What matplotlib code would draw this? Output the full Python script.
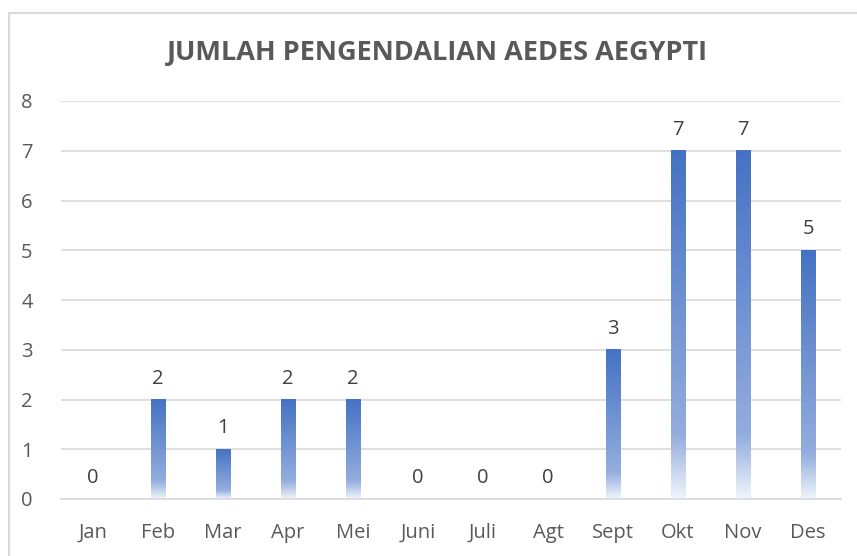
import numpy as np
import matplotlib.pyplot as plt
from matplotlib.colors import LinearSegmentedColormap
from matplotlib.patches import Rectangle

months = ['Jan', 'Feb', 'Mar', 'Apr', 'Mei', 'Juni', 'Juli', 'Agt',
          'Sept', 'Okt', 'Nov', 'Des']
counts = [0, 2, 1, 2, 2, 0, 0, 0, 3, 7, 7, 5]

W, H, DPI = 857, 556, 100
plt.rcParams['font.family'] = ['Open Sans', 'DejaVu Sans']

fig = plt.figure(figsize=(W / DPI, H / DPI), dpi=DPI)
# plot area in pixel coords: x 60.5..840.5, y(0)=499, y(8)=101
ax = fig.add_axes([60.5 / W, 1 - 499 / H, 780 / W, 398 / H])

# gradient: solid blue at top, fading to almost white at the bottom
grad = LinearSegmentedColormap.from_list('bar', [
    (0.0, (0.94, 0.96, 0.985)),
    (0.18, (0.58, 0.68, 0.87)),
    (1.0, (0.267, 0.447, 0.769)),
])
bar_w = 0.23
x = np.arange(len(months))
bars = ax.bar(x, counts, width=bar_w, color='none', zorder=2)
g = np.linspace(0, 1, 256).reshape(-1, 1)
for b, v in zip(bars, counts):
    if v <= 0:
        continue
    x0 = b.get_x()
    ax.imshow(g, cmap=grad, aspect='auto', origin='lower',
              extent=[x0, x0 + bar_w, 0, v], zorder=2, interpolation='bicubic')

for xi, v in zip(x, counts):
    ax.text(xi, v + 0.22, str(v), ha='center', va='bottom',
            fontsize=14.5, color='#404040')

ax.set_xlim(-0.5, len(months) - 0.5)
ax.set_ylim(0, 8)
ax.set_yticks(range(0, 9))
ax.set_xticks(x)
ax.set_xticklabels(months)
ax.grid(axis='y', color='#d9d9d9', linewidth=1.2, zorder=0)
ax.set_axisbelow(True)
for s in ['top', 'right', 'left']:
    ax.spines[s].set_visible(False)
ax.spines['bottom'].set_color('#d9d9d9')
ax.spines['bottom'].set_linewidth(1.2)
ax.tick_params(axis='both', length=0, labelsize=14.5, colors='#595959')
ax.tick_params(axis='y', pad=20)
ax.tick_params(axis='x', pad=17)

fig.text(0.5 * (165 + 710) / W, 1 - 53 / H, 'JUMLAH PENGENDALIAN AEDES AEGYPTI',
         ha='center', va='center', fontsize=19.5, fontweight='bold',
         color='#595959')

# chart border (cut off at right and bottom)
fig.patches.append(Rectangle((8.5 / W, -0.1), 1.2, 1.1 - 12.5 / H,
                             transform=fig.transFigure, fill=False,
                             edgecolor='#d9d9d9', linewidth=1.5))

fig.savefig('out.png', dpi=DPI)
